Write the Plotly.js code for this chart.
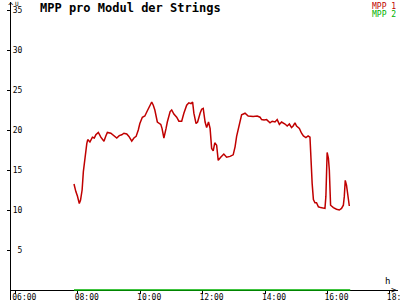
<!DOCTYPE html>
<html><head><meta charset="utf-8">
<script src="https://cdn.plot.ly/plotly-3.0.1.min.js"></script>
<style>html,body{margin:0;padding:0;background:#fff}#chart{width:400px;height:300px}</style>
</head><body><div id="chart"></div>
<script>
// Time in decimal hours
const mpp1Times = [7.88,7.91,7.94,7.99,8.05,8.09,8.14,8.18,8.23,8.29,8.32,8.39,8.47,8.53,8.58,8.66,8.74,8.84,8.90,8.95,9.06,9.14,9.25,9.33,9.41,9.48,9.57,9.64,9.73,9.80,9.87,9.94,9.99,10.07,10.15,10.23,10.29,10.37,10.42,10.47,10.55,10.66,10.70,10.76,10.83,10.87,10.96,11.01,11.08,11.17,11.24,11.33,11.40,11.49,11.56,11.63,11.68,11.72,11.79,11.84,11.92,11.97,12.02,12.08,12.13,12.19,12.24,12.29,12.34,12.39,12.45,12.50,12.58,12.68,12.77,12.88,12.98,13.04,13.09,13.14,13.20,13.25,13.36,13.46,13.62,13.75,13.84,13.89,13.97,14.05,14.16,14.23,14.32,14.39,14.46,14.53,14.64,14.71,14.78,14.85,14.90,14.96,15.01,15.10,15.17,15.23,15.31,15.38,15.44,15.47,15.51,15.55,15.60,15.65,15.71,15.78,15.87,15.92,15.95,15.99,16.03,16.06,16.10,16.19,16.29,16.38,16.45,16.51,16.54,16.57,16.61,16.67,16.70];
const mpp1Values = [13.25,12.5,12.3,11.75,10.8,11.25,12.5,14.8,16.7,18.3,18.8,18.5,19.1,19.0,19.4,19.7,19.1,18.6,19.25,19.7,19.6,19.3,19.0,19.3,19.4,19.6,19.5,19.2,18.6,19.0,19.2,20.0,20.8,21.6,21.75,22.4,22.9,23.5,23.1,22.5,21.0,20.7,20.2,19.0,20.2,21.0,22.3,22.5,22.0,21.6,21.1,21.1,22.1,23.1,23.4,23.3,23.5,22.1,20.8,21.0,22.1,22.6,22.7,21.0,20.3,21.0,20.2,17.7,17.4,18.4,18.1,16.2,16.6,17.0,16.6,16.7,16.9,17.9,19.2,20.0,21.0,21.9,22.1,21.75,21.7,21.75,21.6,21.3,21.25,21.3,20.9,21.1,21.0,21.3,20.7,21.0,20.75,20.5,20.75,20.3,20.5,20.9,20.5,20.2,19.6,19.25,19.05,19.25,19.1,16.25,13.3,11.3,10.9,10.9,10.4,10.3,10.2,10.2,11.7,17.2,16.5,15.0,10.6,10.3,10.1,10.0,10.2,10.6,11.7,13.7,13.1,11.5,10.5];
const mpp2Times = [7.88,8.5,9,10,11,12,13,14,15,16,16.5,16.73];
const mpp2Values = [0,0,0,0,0,0,0,0,0,0,0,0];
const xTickVals = [6,8,10,12,14,16,18];
const xTickText = ['06:00','08:00','10:00','12:00','14:00','16:00','18:00'];
const yTickVals = [5,10,15,20,25,30,35];
const seriesNames = ['MPP 1','MPP 2'];
const seriesColors = ['#c00000','#00b000'];

const mono = 'DejaVu Sans Mono, monospace';
const yMin = -1.25, yMax = 36;

const traces = [
  {x: mpp2Times, y: mpp2Values, type:'scatter', mode:'lines', name: seriesNames[1],
   line:{color: seriesColors[1], width:1.5}, hoverinfo:'skip'},
  {x: mpp1Times, y: mpp1Values, type:'scatter', mode:'lines', name: seriesNames[0],
   line:{color: seriesColors[0], width:1.5}, hoverinfo:'skip'}
];

const layout = {
  width:400, height:300,
  margin:{l:11, r:2, t:2, b:0, pad:0},
  paper_bgcolor:'#fff', plot_bgcolor:'#fff',
  showlegend:false,
  title:{text:'<b>MPP pro Modul der Strings</b>', x:40/400, xref:'container', xanchor:'left',
         y:1-8/300, yref:'container', yanchor:'middle',
         font:{family:mono, size:12, color:'#000'}},
  xaxis:{range:[5.862,18.26], showgrid:false, zeroline:false,
         anchor:'free', position:(0 - yMin)/(yMax - yMin),
         showline:true, linecolor:'#000', linewidth:1, layer:'below traces',
         tickvals:xTickVals, ticktext:xTickText, ticks:'outside', ticklen:3, tickcolor:'#000',
         ticklabelshift:9, ticklabelstandoff:-4, ticklabeloverflow:'allow',
         tickfont:{family:mono, size:8, color:'#000'}},
  yaxis:{range:[yMin,yMax], showgrid:false, zeroline:false,
         showline:true, linecolor:'#000', linewidth:1,
         tickvals:yTickVals, ticks:'outside', ticklen:3, tickcolor:'#000',
         ticklabelposition:'outside', ticklabelstandoff:-17, ticklabeloverflow:'allow',
         tickfont:{family:mono, size:8, color:'#000'}},
  annotations:[
    {text: seriesNames[0], xref:'paper', yref:'paper', x:1, y:1, xanchor:'right', yanchor:'top',
     yshift:2, showarrow:false, font:{family:mono, size:8, color:seriesColors[0]}},
    {text: seriesNames[1], xref:'paper', yref:'paper', x:1, y:1, xanchor:'right', yanchor:'top',
     yshift:-6, showarrow:false, font:{family:mono, size:8, color:seriesColors[1]}},
    {text:'U', xref:'paper', yref:'paper', x:0, y:1, xanchor:'left', yanchor:'top', xshift:2, yshift:4,
     showarrow:false, font:{family:mono, size:6, color:'#000'}},
    {text:'h', xref:'paper', yref:'y', x:1, y:0, xanchor:'right', yanchor:'bottom', xshift:-6, yshift:2,
     showarrow:false, font:{family:mono, size:9, color:'#000'}},
    {text:'>', xref:'paper', yref:'y', x:1, y:0, xanchor:'right', yanchor:'middle', xshift:1,
     showarrow:false, font:{family:mono, size:9, color:'#000'}},
    {text:'^', xref:'paper', yref:'paper', x:0, y:1, xanchor:'center', yanchor:'top', yshift:3,
     showarrow:false, font:{family:mono, size:9, color:'#000'}}
  ]
};

Plotly.newPlot('chart', traces, layout, {staticPlot:true, displayModeBar:false});
</script>
</body></html>
